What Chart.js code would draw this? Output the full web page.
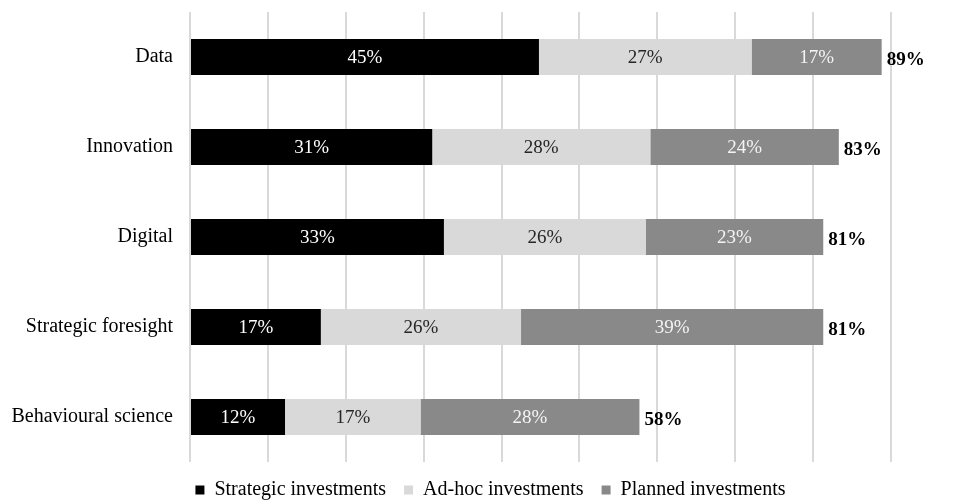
<!DOCTYPE html>
<html>
<head>
<meta charset="utf-8">
<script src="https://cdn.jsdelivr.net/npm/chart.js@4/dist/chart.umd.min.js"></script>
<style>
  html, body { margin: 0; padding: 0; background: #fff; }
  #wrap { width: 958px; height: 502px; position: relative; }
</style>
</head>
<body>
<div id="wrap"><canvas id="chart"></canvas></div>
<script>
'use strict';

// values (bar lengths), labels show them rounded
var categories = ['Data', 'Innovation', 'Digital', 'Strategic foresight', 'Behavioural science'];
var strategic = [44.8, 31.1, 32.6, 16.8, 12.2];
var adhoc     = [27.3, 28.0, 25.9, 25.7, 17.4];
var planned   = [16.7, 24.2, 22.8, 38.8, 28.1];
var totals    = [89, 83, 81, 81, 58];
var seriesNames = ['Strategic investments', 'Ad-hoc investments', 'Planned investments'];

var FONT = "'Liberation Serif', 'Times New Roman', serif";

// inner value labels + bold totals at the end of each bar
const valueLabels = {
  id: 'valueLabels',
  afterDatasetsDraw(chart) {
    const ctx = chart.ctx;
    const textColors = ['#ffffff', '#262626', '#f4f4f4'];
    ctx.save();
    ctx.textBaseline = 'middle';
    chart.data.datasets.forEach((ds, di) => {
      const meta = chart.getDatasetMeta(di);
      meta.data.forEach((bar, i) => {
        ctx.font = '19px ' + FONT;
        ctx.fillStyle = textColors[di];
        ctx.textAlign = 'center';
        ctx.fillText(Math.round(ds.data[i]) + '%', (bar.x + bar.base) / 2, bar.y + 1);
        if (di === chart.data.datasets.length - 1) {
          ctx.font = 'bold 19px ' + FONT;
          ctx.fillStyle = '#000';
          ctx.textAlign = 'left';
          ctx.fillText(totals[i] + '%', bar.x + 5, bar.y + 3);
        }
      });
    });
    ctx.restore();
  }
};

const ctx = document.getElementById('chart').getContext('2d');
new Chart(ctx, {
  type: 'bar',
  data: {
    labels: categories,
    datasets: [
      { label: seriesNames[0], data: strategic, backgroundColor: '#000000' },
      { label: seriesNames[1], data: adhoc, backgroundColor: '#d9d9d9' },
      { label: seriesNames[2], data: planned, backgroundColor: '#898989' }
    ]
  },
  options: {
    indexAxis: 'y',
    responsive: true,
    maintainAspectRatio: false,
    animation: false,
    datasets: { bar: { categoryPercentage: 0.4, barPercentage: 1 } },
    // right padding is negative so the legend row centres where the original has it
    layout: { padding: { left: 8, right: -15, top: 12, bottom: 0 } },
    scales: {
      x: {
        stacked: true,
        min: 0,
        max: 98.6,
        ticks: { display: false, stepSize: 10, includeBounds: false },
        grid: { color: '#d9d9d9', lineWidth: 2, drawTicks: false },
        border: { display: false },
        afterFit(scale) { scale.height = 0; }
      },
      y: {
        stacked: true,
        grid: { display: false, drawTicks: false },
        border: { display: false },
        ticks: { color: '#000', padding: 17, font: { family: FONT, size: 20 } },
        afterFit(scale) {
          scale.width = 182;
          scale.paddingTop = 0;
          scale.paddingBottom = 0;
        }
      }
    },
    plugins: {
      tooltip: { enabled: false },
      legend: {
        position: 'bottom',
        maxHeight: 40,
        labels: {
          color: '#000',
          boxWidth: 9,
          boxHeight: 9,
          padding: 18,
          font: { family: FONT, size: 20 },
          generateLabels(chart) {
            const items = Chart.defaults.plugins.legend.labels.generateLabels(chart);
            items.forEach(it => { it.lineWidth = 0; });
            return items;
          }
        }
      }
    }
  },
  plugins: [valueLabels]
});
</script>
</body>
</html>
